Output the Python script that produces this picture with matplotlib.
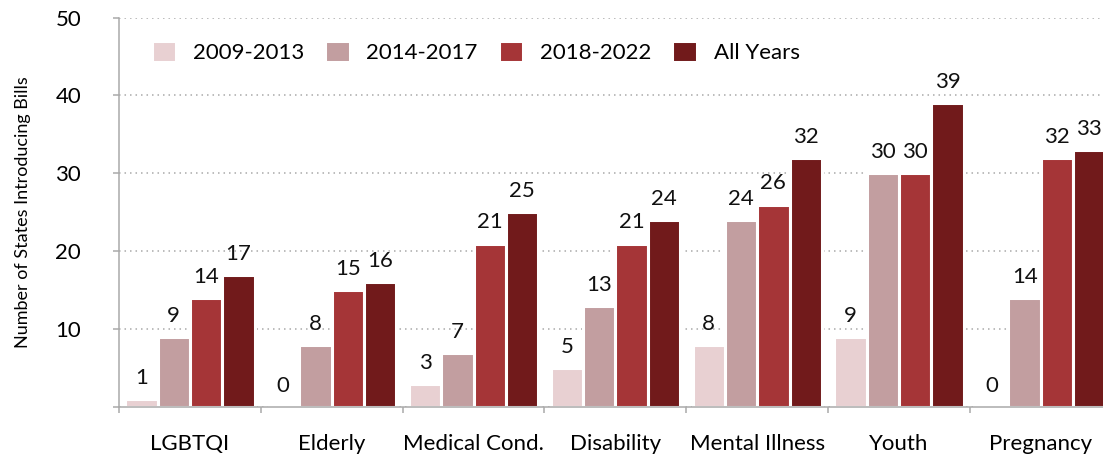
import numpy as np
import matplotlib
matplotlib.use("Agg")
import matplotlib.pyplot as plt

# ── Data ──────────────────────────────────────────────────────────────────────
categories = ["LGBTQI", "Elderly", "Medical Cond.", "Disability",
              "Mental Illness", "Youth", "Pregnancy"]
periods = ["2009-2013", "2014-2017", "2018-2022", "All Years"]
y_2009_2013 = [1, 0, 3, 5, 8, 9, 0]
y_2014_2017 = [9, 8, 7, 13, 24, 30, 14]
y_2018_2022 = [14, 15, 21, 21, 26, 30, 32]
y_all_years = [17, 16, 25, 24, 32, 39, 33]
series = [y_2009_2013, y_2014_2017, y_2018_2022, y_all_years]
colors = ["#e8d0d2", "#c29ea0", "#a53537", "#711a1b"]

plt.rcParams["font.family"] = ["Lato", "DejaVu Sans"]

fig = plt.figure(figsize=(11.03, 4.58), dpi=100)
ax = fig.add_axes([0.1079, 0.111, 0.900, 0.8507])

x = np.arange(len(categories))
w = 0.228
offsets = (np.arange(len(series)) - 1.5) * w

for vals, off, col, lab in zip(series, offsets, colors, periods):
    bars = ax.bar(x + off, vals, width=w, color=col, edgecolor="white",
                  linewidth=2.2, label=lab)
    for b, v in zip(bars, vals):
        ax.annotate(f"{v}", (b.get_x() + b.get_width() / 2, v),
                    xytext=(0, 8), textcoords="offset points",
                    ha="center", va="bottom", fontsize=16, color="#111")

ax.set_xlim(-0.5, len(categories) - 0.5)
ax.set_ylim(0, 50)

# ── Axes styling ──────────────────────────────────────────────────────────────
ax.set_yticks(np.arange(0, 51, 10))
ax.set_yticklabels([""] + [str(v) for v in range(10, 51, 10)])
ax.yaxis.grid(True, color="#aaaaaa", linestyle=(0, (1, 2.6)), linewidth=1.1)
ax.set_axisbelow(True)

ax.set_xticks(x)
ax.set_xticklabels(categories)
ax.set_xticks(np.arange(-0.5, len(categories), 1), minor=True)
ax.tick_params(axis="x", which="major", length=0, pad=19, labelsize=16)
ax.tick_params(axis="x", which="minor", length=4.3, width=1.1, color="#aaaaaa")
ax.tick_params(axis="y", length=4.3, width=1.1, color="#aaaaaa", pad=23,
               labelsize=16)

for s in ["top", "right"]:
    ax.spines[s].set_visible(False)
for s in ["left", "bottom"]:
    ax.spines[s].set_color("#aaaaaa")
    ax.spines[s].set_linewidth(1.1)

ax.set_ylabel("Number of States Introducing Bills", fontsize=13)
ax.yaxis.set_label_coords(-0.0887, 0.5)

ax.legend(loc="upper left", bbox_to_anchor=(0.033, 0.94), ncol=4,
          frameon=False, fontsize=16, borderpad=0, borderaxespad=0,
          handlelength=1.1, handleheight=1.1, handletextpad=0.75,
          columnspacing=0.95)

fig.savefig("out.png", dpi=100)
